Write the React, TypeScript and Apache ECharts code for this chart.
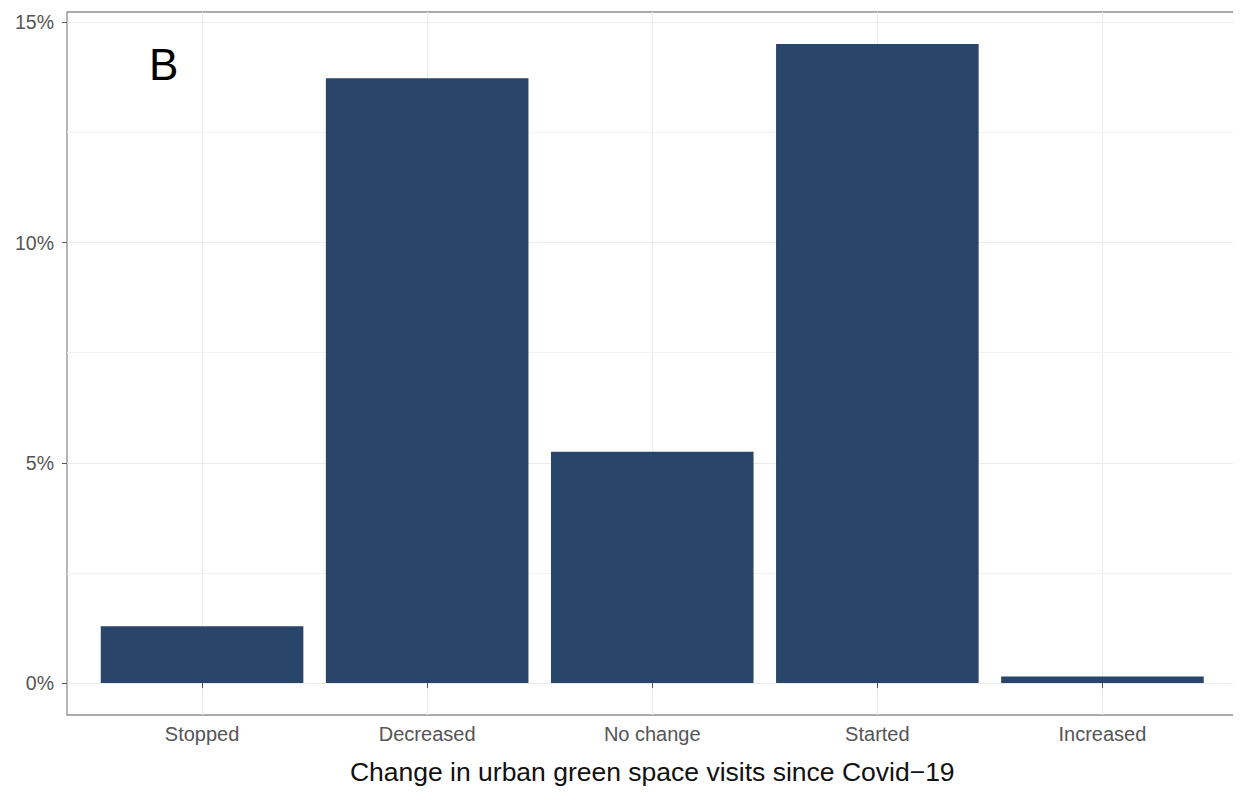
import React, { useEffect, useRef } from "react";
import * as echarts from "echarts";

// Share of respondents by change in visits
const categories = ["Stopped", "Decreased", "No change", "Started", "Increased"];
const shares = [1.29, 13.73, 5.25, 14.51, 0.15];
const yTicks = [0, 5, 10, 15];
const yMinorTicks = [2.5, 7.5, 12.5];
const xPositions = [1, 2, 3, 4, 5];

const FONT = "'Liberation Sans', Arial, Helvetica, sans-serif";

export default function App() {
  const ref = useRef<HTMLDivElement>(null);

  useEffect(() => {
    if (!ref.current) return;
    const chart = echarts.init(ref.current, null, { renderer: "svg" });

    const top = Math.max(...shares);
    const pad = top * 0.05;

    chart.setOption({
      animation: false,
      backgroundColor: "#ffffff",
      textStyle: { fontFamily: FONT },
      grid: {
        left: 67,
        right: 3.5,
        top: 12,
        bottom: 85,
        show: true,
        borderColor: "#8f8f8f",
        borderWidth: 1.3,
        backgroundColor: "transparent",
      },
      xAxis: {
        type: "value",
        min: 0.4,
        max: categories.length + 0.6,
        minInterval: 1,
        maxInterval: 1,
        axisLine: { show: false },
        axisTick: {
          show: true,
          length: 5,
          customValues: xPositions,
          lineStyle: { color: "#555555" },
        },
        axisLabel: {
          customValues: xPositions,
          margin: 9,
          color: "#555555",
          fontSize: 20,
          fontFamily: FONT,
          formatter: (v: number) => categories[Math.round(v) - 1] ?? "",
        },
        splitLine: { show: true, lineStyle: { color: "#ebebeb", width: 1 } },
        name: "Change in urban green space visits since Covid\u221219",
        nameLocation: "middle",
        nameGap: 43,
        nameTextStyle: { color: "#111111", fontSize: 26.5, fontFamily: FONT },
      },
      yAxis: {
        type: "value",
        min: -pad,
        max: top + pad,
        minInterval: 5,
        maxInterval: 5,
        axisLine: { show: false },
        axisTick: {
          show: true,
          length: 5,
          customValues: yTicks,
          lineStyle: { color: "#555555" },
        },
        axisLabel: {
          customValues: yTicks,
          margin: 13,
          color: "#555555",
          fontSize: 19.5,
          fontFamily: FONT,
          formatter: (v: number) => `${Math.round(v)}%`,
        },
        splitLine: { show: true, lineStyle: { color: "#ebebeb", width: 1 } },
      },
      series: [
        {
          type: "bar",
          z: 2,
          barWidth: "90%",
          itemStyle: { color: "#29456a" },
          data: shares.map((s, i) => [xPositions[i], s]),
          markLine: {
            z: 1,
            silent: true,
            symbol: "none",
            label: { show: false },
            lineStyle: { color: "#f2f2f2", width: 1, type: "solid" },
            data: yMinorTicks.map((v) => ({ yAxis: v })),
          },
        },
      ],
      graphic: [
        {
          type: "text",
          left: 149,
          top: 42,
          style: {
            text: "B",
            fill: "#000000",
            fontSize: 44,
            fontFamily: FONT,
          },
        },
      ],
    });

    return () => chart.dispose();
  }, []);

  return <div ref={ref} style={{ width: 1241, height: 800, marginLeft: -8, marginTop: -8 }} />;
}
